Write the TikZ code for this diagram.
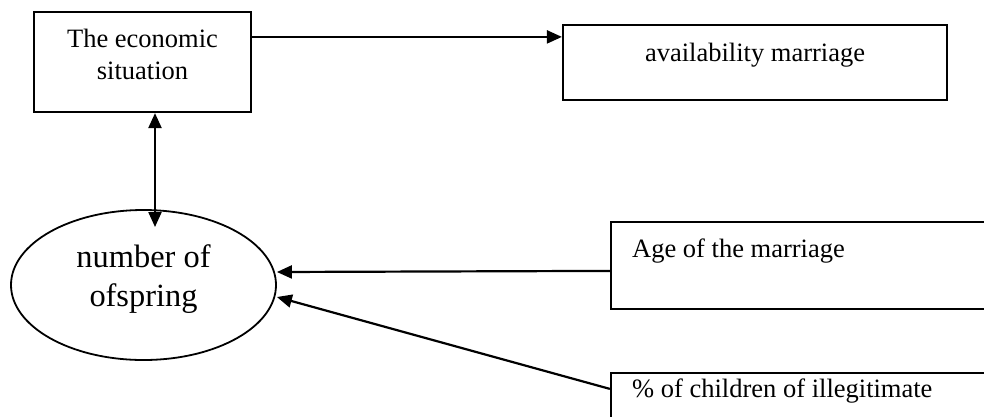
\documentclass[tikz,border=0pt]{standalone}
\usepackage{fontspec}
\setmainfont{Liberation Serif}
\usetikzlibrary{arrows.meta,shapes.geometric}
\begin{document}
\begin{tikzpicture}[x=1pt,y=-1pt,
  boxf/.style={draw,line width=2.2pt,inner sep=0pt,rectangle},
  tip/.tip={Triangle[length=15pt,width=13pt]},
  arr/.style={line width=2.2pt,-tip},
  darr/.style={line width=2.2pt,tip-tip},
  bfont/.style={font=\fontsize{26.5}{31.8}\selectfont,inner sep=0pt},
  efont/.style={font=\fontsize{32.4}{39}\selectfont,inner sep=0pt},
]
\clip (0,0) rectangle (984,416);
\fill[white] (0,0) rectangle (984,416);
% boxes
\node[boxf,minimum width=217pt,minimum height=100pt] (eco) at (142.5,62) {};
\node[bfont,align=center,anchor=base] (ecot) at (142.5,79) {The economic\\situation};
\node[boxf,minimum width=384pt,minimum height=75pt] (avail) at (755,62.5) {};
\node[bfont,anchor=base] (availt) at (755,61) {availability marriage};
\node[boxf,minimum width=390pt,minimum height=87pt] (age) at (806,265.5) {};
\node[bfont,anchor=base west] (aget) at (632,257) {Age of the marriage};
\node[boxf,minimum width=390pt,minimum height=90pt] (ill) at (806,418) {};
\node[bfont,anchor=base west] (illt) at (632,397) {\% of children of illegitimate};
% ellipse
\node[draw,ellipse,line width=1.8pt,minimum width=265pt,minimum height=150pt,inner sep=0pt] (off) at (143.5,285) {};
\node[efont,align=center,anchor=base] (offt) at (143.5,306) {number of\\ofspring};
% connectors
\draw[arr] ([yshift=-26pt]eco.north east) -- ([yshift=-13pt]avail.north west);
\draw[darr] ([xshift=12.5pt]eco.south) -- ([xshift=11.5pt,yshift=58pt]off.center);
\draw[arr] ([yshift=-50pt]age.north west) -- ([yshift=13pt]off.east);
\draw[arr] ([yshift=-17pt]ill.north west) -- ([yshift=-12pt]off.east);
\end{tikzpicture}
\end{document}
